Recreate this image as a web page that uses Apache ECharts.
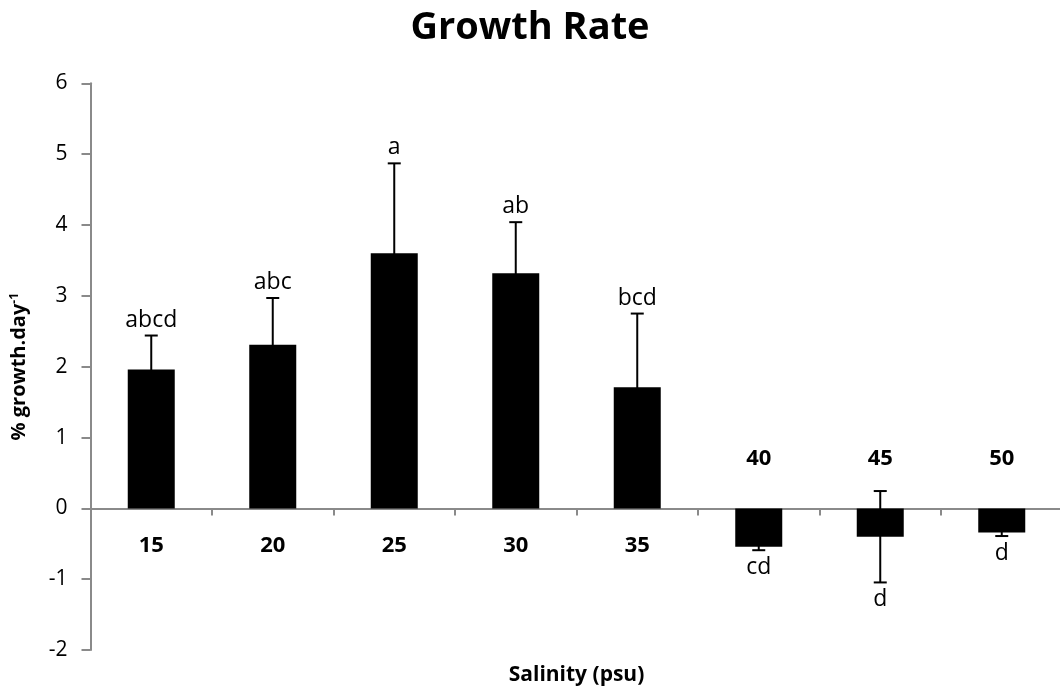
<!DOCTYPE html>
<html>
<head>
<meta charset="utf-8">
<script src="https://cdn.jsdelivr.net/npm/echarts@6/dist/echarts.min.js"></script>
<style>
  html, body { margin: 0; padding: 0; background: #fff; }
  #chart { width: 1060px; height: 688px; }
</style>
</head>
<body>
<div id="chart"></div>
<script>
// ---- data ----
const categories = ['15', '20', '25', '30', '35', '40', '45', '50'];
const growth = [1.96, 2.31, 3.60, 3.32, 1.71, -0.54, -0.40, -0.34];
const errors = [0.48, 0.66, 1.27, 0.72, 1.04, 0.05, 0.645, 0.05];
const letters = ['abcd', 'abc', 'a', 'ab', 'bcd', 'cd', 'd', 'd'];
const yMin = -2, yMax = 6, yStep = 1;

const FONT = '"Open Sans", "DejaVu Sans", sans-serif';
const chart = echarts.init(document.getElementById('chart'), null, { renderer: 'canvas' });

const errData = categories.map((c, i) => [i, growth[i], errors[i]]);
const catData = categories.map((c, i) => [i, growth[i]]);

chart.setOption({
  animation: false,
  backgroundColor: '#ffffff',
  title: {
    text: 'Growth Rate',
    left: 'center',
    top: 4,
    textStyle: { fontFamily: FONT, fontWeight: 'bold', fontSize: 38, color: '#000' }
  },
  grid: { left: 90.5, top: 83.3, width: 972, height: 566.8, containLabel: false, outerBoundsMode: 'none' },
  xAxis: {
    type: 'category',
    data: categories,
    name: 'Salinity (psu)',
    nameLocation: 'middle',
    nameGap: 14,
    nameTextStyle: { fontFamily: FONT, fontWeight: 'bold', fontSize: 21, color: '#000' },
    axisLine: { onZero: true, lineStyle: { color: '#8a8a8a', width: 2 } },
    axisTick: { show: true, length: 7, inside: false, alignWithLabel: false, interval: 0, lineStyle: { color: '#8a8a8a', width: 2 } },
    axisLabel: { show: false },
    splitLine: { show: false }
  },
  yAxis: {
    type: 'value',
    min: yMin, max: yMax, interval: yStep,
    name: '{m|% growth.day}{s|-1}',
    nameLocation: 'middle',
    nameGap: 60,
    nameRotate: 90,
    nameTextStyle: {
      rich: {
        m: { fontFamily: FONT, fontWeight: 'bold', fontSize: 20, color: '#000' },
        s: { fontFamily: FONT, fontWeight: 'bold', fontSize: 12, color: '#000', padding: [0, 0, 10, 0] }
      }
    },
    axisLine: { show: true, lineStyle: { color: '#8a8a8a', width: 2 } },
    axisTick: { show: true, length: 9, inside: false, lineStyle: { color: '#8a8a8a', width: 2 } },
    axisLabel: { margin: 23, fontFamily: FONT, fontSize: 21, color: '#000' },
    splitLine: { show: false }
  },
  series: [
    {
      type: 'bar',
      data: growth,
      barWidth: 47,
      itemStyle: { color: '#000' },
      z: 2
    },
    {
      type: 'custom',
      data: errData,
      encode: { x: 0, y: 1 },
      z: 3,
      renderItem: function (params, api) {
        const i = api.value(0), v = api.value(1), e = api.value(2);
        const hi = api.coord([i, v + e]);
        const lo = api.coord([i, v - e]);
        const x = hi[0];
        const cap = 6.5;
        const st = { stroke: '#000', lineWidth: 2 };
        const txt = letters[params.dataIndex];
        const neg = v < 0;
        return {
          type: 'group',
          children: [
            { type: 'line', shape: { x1: x, y1: hi[1], x2: x, y2: lo[1] }, style: st },
            { type: 'line', shape: { x1: x - cap, y1: hi[1], x2: x + cap, y2: hi[1] }, style: st },
            { type: 'line', shape: { x1: x - cap, y1: lo[1], x2: x + cap, y2: lo[1] }, style: st },
            {
              type: 'text',
              style: {
                text: txt,
                x: x,
                y: neg ? lo[1] + 6 : hi[1] - 4,
                align: 'center',
                verticalAlign: neg ? 'top' : 'bottom',
                fontFamily: FONT, fontSize: 23, fill: '#000'
              }
            }
          ]
        };
      }
    },
    {
      type: 'custom',
      data: catData,
      encode: { x: 0, y: 1 },
      z: 4,
      renderItem: function (params, api) {
        const i = api.value(0), v = api.value(1);
        const p = api.coord([i, 0]);
        return {
          type: 'text',
          style: {
            text: categories[params.dataIndex],
            x: p[0],
            y: v >= 0 ? p[1] + 37 : p[1] - 50,
            align: 'center',
            verticalAlign: 'middle',
            fontFamily: FONT, fontWeight: 'bold', fontSize: 22, fill: '#000'
          }
        };
      }
    }
  ]
});
</script>
</body>
</html>
